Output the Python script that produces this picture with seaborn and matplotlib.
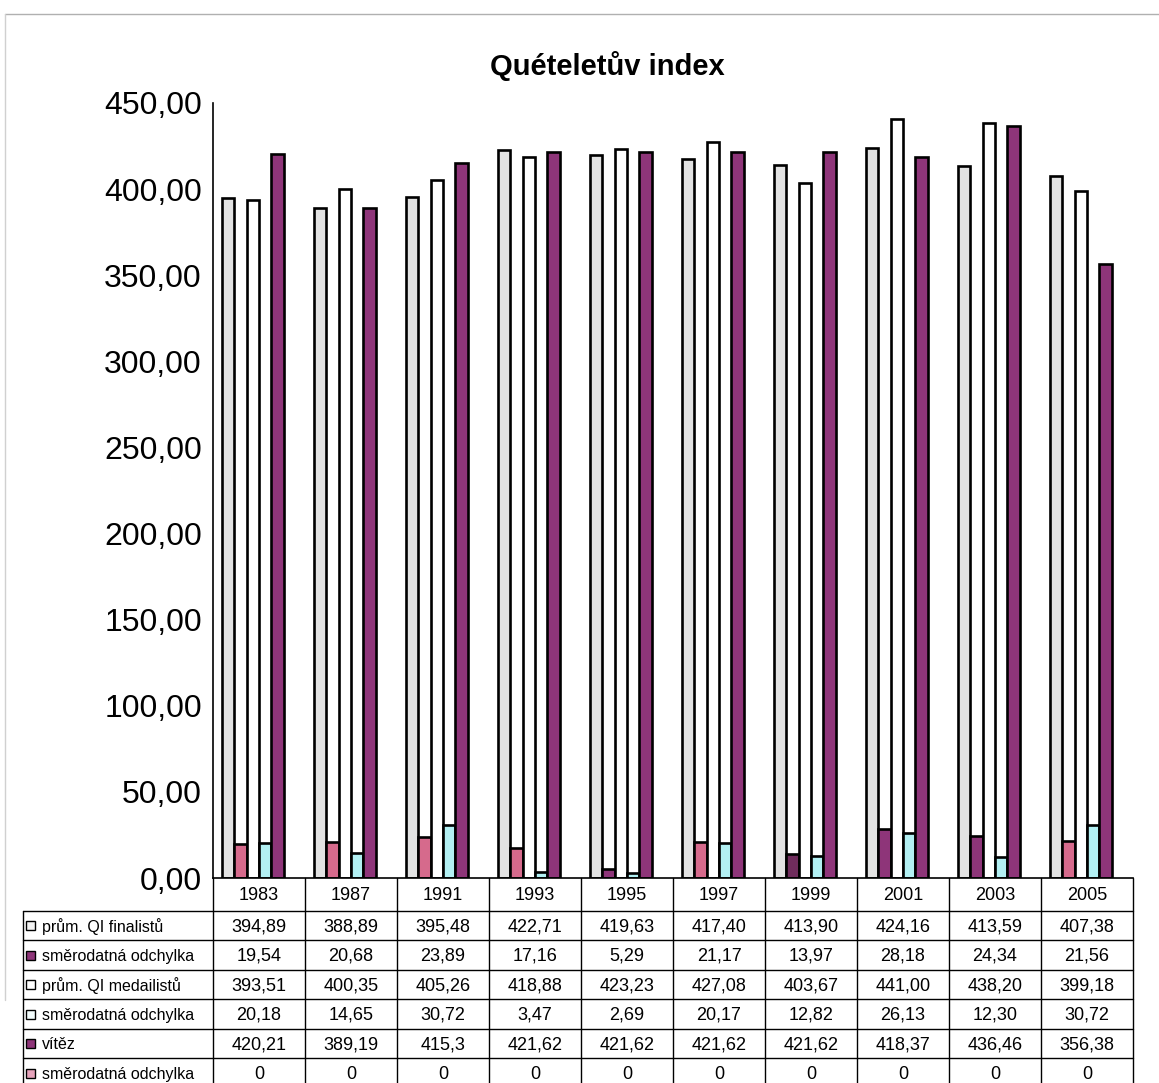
import numpy as np
import pandas as pd
import matplotlib
matplotlib.use("Agg")
import matplotlib.pyplot as plt
from matplotlib.lines import Line2D
from matplotlib.patches import Rectangle
from matplotlib.transforms import blended_transform_factory
import seaborn as sns

# ---- data -------------------------------------------------------------
years = ["1983", "1987", "1991", "1993", "1995", "1997", "1999", "2001", "2003", "2005"]
prum_finalistu = [394.89, 388.89, 395.48, 422.71, 419.63, 417.40, 413.90, 424.16, 413.59, 407.38]
odchylka_finalistu = [19.54, 20.68, 23.89, 17.16, 5.29, 21.17, 13.97, 28.18, 24.34, 21.56]
prum_medailistu = [393.51, 400.35, 405.26, 418.88, 423.23, 427.08, 403.67, 441.00, 438.20, 399.18]
odchylka_medailistu = [20.18, 14.65, 30.72, 3.47, 2.69, 20.17, 12.82, 26.13, 12.30, 30.72]
vitez = [420.21, 389.19, 415.30, 421.62, 421.62, 421.62, 421.62, 418.37, 436.46, 356.38]
odchylka_vitez = [0, 0, 0, 0, 0, 0, 0, 0, 0, 0]

series_keys = ["fin", "sd_fin", "med", "sd_med", "vit", "sd_vit"]
series_labels = ["prům. QI finalistů", "směrodatná odchylka", "prům. QI medailistů",
                 "směrodatná odchylka", "vítěz", "směrodatná odchylka"]
series_values = [prum_finalistu, odchylka_finalistu, prum_medailistu,
                 odchylka_medailistu, vitez, odchylka_vitez]
# number format of each table row
row_formats = [".2f", ".2f", ".2f", ".2f", "g", "g"]

# ---- styling ----------------------------------------------------------
GRAY = "#e2e2e2"
PINK = "#d66a8c"
PLUM = "#8e3579"
DARK_PLUM = "#6f2c5c"
CYAN = "#b2f0f3"
palette = {"fin": GRAY, "sd_fin": PINK, "med": "#ffffff", "sd_med": CYAN,
           "vit": PLUM, "sd_vit": "#e6a3bb"}
# fill of the first deviation series, year by year
sd_fin_fill = [PINK, PINK, PINK, PINK, PLUM, PINK, DARK_PLUM, PLUM, PLUM, PINK]
key_colors = ["#f2f2f2", PLUM, "#ffffff", "#f3fdfd", PLUM, "#e6a3bb"]

sns.set_style("white")
plt.rcParams["font.family"] = ["Liberation Sans", "DejaVu Sans"]
plt.rcParams["text.color"] = "black"
plt.rcParams["ytick.labelcolor"] = "black"
plt.rcParams["ytick.color"] = "black"

W, H = 1159, 1083
fig = plt.figure(figsize=(W / 100, H / 100), dpi=100)


def fx(px):
    return px / W


def fy(py):
    return 1 - py / H


# ---- bar chart --------------------------------------------------------
df = pd.DataFrame({
    "rok": np.tile(years, len(series_keys)),
    "rada": np.repeat(series_keys, len(years)),
    "hodnota": np.concatenate([np.asarray(v, dtype=float) for v in series_values]),
})

ax = fig.add_axes([fx(213), fy(878), fx(1133) - fx(213), fy(103) - fy(878)])
sns.barplot(data=df, x="rok", y="hodnota", hue="rada", hue_order=series_keys,
            order=years, palette=palette, saturation=1, width=0.8, dodge=True,
            edgecolor="black", linewidth=1.9, legend=False, ax=ax)

for bar, col in zip(ax.containers[1], sd_fin_fill):
    bar.set_facecolor(col)
for bar in ax.containers[5]:
    bar.set_linewidth(0)

ax.set_xlim(-0.5, len(years) - 0.5)
ax.set_ylim(0, 450)
ax.set_xticks([])
ax.set_xlabel("")
ax.set_ylabel("")
yt = np.arange(0, 451, 50)
ax.set_yticks(yt)
ax.set_yticklabels([f"{v:.2f}".replace(".", ",") for v in yt], fontsize=23,
                   color="black")
ax.tick_params(axis="y", direction="out", length=6, width=1, color="black", pad=2)
for side in ("top", "right"):
    ax.spines[side].set_visible(False)
for side in ("left", "bottom"):
    ax.spines[side].set_color("black")
    ax.spines[side].set_linewidth(1.2)

fig.text(fx(607), fy(66), "Quételetův index", ha="center", va="center",
         fontsize=21, fontweight="bold", color="black")

# ---- data table below the axis ----------------------------------------
tab = fig.add_axes([fx(23), 0, fx(1133) - fx(23), fy(878)])
tab.set_xlim(23, 1133)
tab.set_ylim(H, 878)
tab.axis("off")
bt = blended_transform_factory(ax.transData, tab.transData)

header_bottom = 911
row_h = 29.5
row_edges = [header_bottom + i * row_h for i in range(len(series_keys) + 1)]

line_kw = dict(color="black", lw=1.0, clip_on=False)
for yv in row_edges:
    tab.add_line(Line2D([23, 1133], [yv, yv], **line_kw))
tab.add_line(Line2D([23, 23], [header_bottom, row_edges[-1]], **line_kw))
for b in np.arange(-0.5, len(years), 1.0):
    tab.add_line(Line2D([b, b], [878, row_edges[-1]], transform=bt, **line_kw))

for i, yr in enumerate(years):
    tab.text(i, (878 + header_bottom) / 2 + 1, yr, transform=bt, ha="center",
             va="center", fontsize=13, color="black")

for r, (lab, vals, fmt, kc) in enumerate(zip(series_labels, series_values,
                                             row_formats, key_colors)):
    yc = row_edges[r] + row_h / 2
    tab.add_patch(Rectangle((26, yc - 4.5), 9, 9, facecolor=kc, edgecolor="black",
                            lw=1.0, clip_on=False))
    tab.text(42, yc + 1, lab, ha="left", va="center", fontsize=11.5, color="black")
    for i, v in enumerate(vals):
        tab.text(i, yc + 1, format(v, fmt).replace(".", ","), transform=bt,
                 ha="center", va="center", fontsize=13, color="black")

# page frame
fig.add_artist(Line2D([fx(5), 1], [fy(14), fy(14)], color="#b0b0b0", lw=1))
fig.add_artist(Line2D([fx(5), fx(5)], [fy(14), fy(1000)], color="#d0d0d0", lw=1))

fig.savefig("out.png", dpi=100)
